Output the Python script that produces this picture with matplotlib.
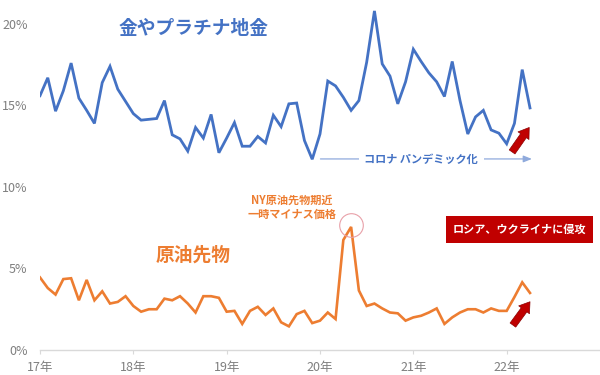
import matplotlib
matplotlib.use("Agg")
import matplotlib.pyplot as plt
import numpy as np

plt.rcParams['font.family'] = ['Noto Sans CJK JP', 'DejaVu Sans']

# monthly data, Jan 2017 .. Apr 2022 (month index 0..63)
gold = [15.6, 16.7, 14.65, 15.9, 17.6, 15.45, 14.7, 13.9, 16.4, 17.4,
        16.0, 15.25, 14.5, 14.1, 14.15, 14.2, 15.3, 13.2, 12.95, 12.2,
        13.65, 13.0, 14.45, 12.1, 13.0, 13.95, 12.5, 12.5, 13.1, 12.7,
        14.4, 13.7, 15.1, 15.15, 12.85, 11.7, 13.25, 16.5, 16.2, 15.5,
        14.7, 15.3, 17.65, 20.8, 17.55, 16.8, 15.1, 16.45, 18.45, 17.7,
        17.0, 16.45, 15.55, 17.7, 15.3, 13.25, 14.3, 14.7, 13.5, 13.3,
        12.65, 13.9, 17.2, 14.85]
oil = [4.45, 3.8, 3.4, 4.35, 4.4, 3.05, 4.3, 3.05, 3.6, 2.85,
       2.95, 3.3, 2.7, 2.35, 2.5, 2.5, 3.15, 3.05, 3.3, 2.85,
       2.3, 3.3, 3.3, 3.2, 2.35, 2.4, 1.6, 2.4, 2.65, 2.15,
       2.55, 1.7, 1.45, 2.2, 2.4, 1.65, 1.8, 2.3, 1.9, 6.75,
       7.55, 3.65, 2.7, 2.85, 2.55, 2.3, 2.25, 1.8, 2.0, 2.1,
       2.3, 2.55, 1.6, 2.0, 2.3, 2.5, 2.5, 2.3, 2.55, 2.4,
       2.4, 3.25, 4.15, 3.5]
year_ticks = [0, 12, 24, 36, 48, 60]
year_labels = ['17年', '18年', '19年', '20年', '21年', '22年']
y_ticks = [0, 5, 10, 15, 20]
y_labels = ['0%', '5%', '10%', '15%', '20%']

BLUE = '#4472C4'
ORANGE = '#ED7D31'
RED = '#C00000'

fig = plt.figure(figsize=(6, 3.75), dpi=100)
ax = fig.add_axes([40/600, 25/375, 560/600, 350/375])
months = np.arange(len(gold))
ax.plot(months, gold, color=BLUE, lw=2.0, solid_joinstyle='miter')
ax.plot(months, oil, color=ORANGE, lw=1.9, solid_joinstyle='miter')

ax.set_xlim(0, 72)
ax.set_ylim(0, 21.47)
ax.set_xticks(year_ticks)
ax.set_xticklabels(year_labels)
ax.set_yticks(y_ticks)
ax.set_yticklabels(y_labels)
for s in ['top', 'right', 'left']:
    ax.spines[s].set_visible(False)
ax.spines['bottom'].set_color('#D9D9D9')
ax.spines['bottom'].set_linewidth(1.0)
ax.tick_params(axis='y', length=0, pad=9, labelsize=9, labelcolor='#7F7F7F')
ax.tick_params(axis='x', length=3, color='#D9D9D9', pad=5, labelsize=9,
               labelcolor='#7F7F7F')

# series labels
ax.text(19.8, 19.75, '金やプラチナ地金', color=BLUE, fontsize=13.5,
        fontweight='bold', ha='center', va='center')
ax.text(19.7, 5.83, '原油先物', color=ORANGE, fontsize=13.5,
        fontweight='bold', ha='center', va='center')

# NY oil annotation
ax.text(32.4, 8.77, 'NY原油先物期近\n一時マイナス価格', color=ORANGE, fontsize=8,
        fontweight='bold', ha='center', va='center', linespacing=1.15)
ax.plot([40], [7.67], marker='o', markersize=17, markerfacecolor='none',
        markeredgecolor='#E8A0A8', markeredgewidth=0.8)

# pandemic arrow
ax.annotate('', xy=(63.6, 11.72), xytext=(35.7, 11.72),
            arrowprops=dict(arrowstyle='-|>,head_length=0.5,head_width=0.2',
                            color='#8FAADC', lw=0.9))
ax.text(49.0, 11.72, 'コロナ パンデミック化', color=BLUE, fontsize=8,
        fontweight='bold', ha='center', va='center',
        bbox=dict(facecolor='white', edgecolor='none', pad=4))

# Russia box
ax.text(61.6, 7.39, 'ロシア、ウクライナに侵攻', color='white', fontsize=8,
        fontweight='bold', ha='center', va='center',
        bbox=dict(boxstyle='square,pad=0.6', facecolor=RED, edgecolor='none'))

# red arrows
for tail, head in [((60.7, 12.15), (62.9, 13.65)), ((60.8, 1.53), (63.0, 2.96))]:
    ax.annotate('', xy=head, xytext=tail,
                arrowprops=dict(arrowstyle='simple,head_length=0.6,head_width=0.8,tail_width=0.42',
                                mutation_scale=12, facecolor=RED, edgecolor='#8B0000',
                                lw=0.5, shrinkA=0, shrinkB=0))

fig.savefig('out.png', dpi=100)
